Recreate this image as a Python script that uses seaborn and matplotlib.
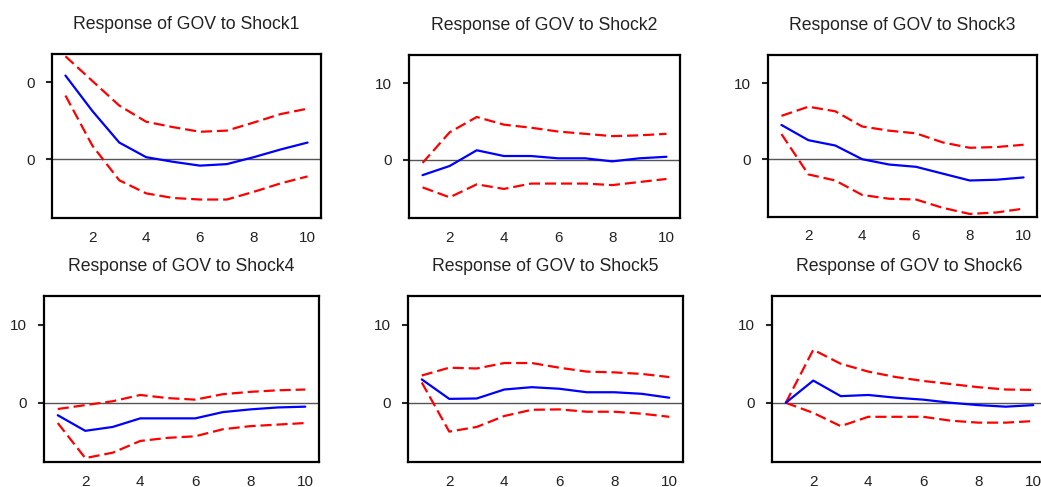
import pandas as pd
import matplotlib
matplotlib.use('Agg')
import matplotlib.pyplot as plt
import seaborn as sns

# Impulse responses of GOV, 10 periods, with +/- 2 s.e. bands
periods = list(range(1, 11))
shocks = ['Shock1', 'Shock2', 'Shock3', 'Shock4', 'Shock5', 'Shock6']

response = [
    [10.9, 6.3, 2.2, 0.3, -0.3, -0.8, -0.6, 0.3, 1.3, 2.2],
    [-2.0, -0.8, 1.25, 0.5, 0.5, 0.2, 0.2, -0.2, 0.2, 0.4],
    [4.5, 2.5, 1.8, 0.0, -0.7, -1.0, -1.9, -2.8, -2.7, -2.4],
    [-1.6, -3.6, -3.1, -2.0, -2.0, -2.0, -1.2, -0.85, -0.6, -0.5],
    [3.0, 0.5, 0.55, 1.7, 2.0, 1.8, 1.35, 1.35, 1.15, 0.65],
    [0.0, 2.85, 0.85, 1.0, 0.65, 0.4, 0.0, -0.3, -0.5, -0.3],
]
upper = [
    [13.4, 10.2, 7.0, 4.9, 4.2, 3.6, 3.75, 4.8, 5.9, 6.6],
    [-0.4, 3.6, 5.6, 4.6, 4.2, 3.7, 3.4, 3.1, 3.2, 3.4],
    [5.7, 6.9, 6.3, 4.3, 3.75, 3.4, 2.2, 1.5, 1.6, 1.9],
    [-0.8, -0.3, 0.2, 1.0, 0.6, 0.4, 1.1, 1.4, 1.6, 1.7],
    [3.5, 4.5, 4.4, 5.1, 5.1, 4.5, 4.0, 3.9, 3.7, 3.3],
    [0.0, 6.8, 5.0, 4.0, 3.3, 2.8, 2.4, 2.0, 1.7, 1.65],
]
lower = [
    [8.3, 1.8, -2.7, -4.4, -5.0, -5.2, -5.2, -4.2, -3.1, -2.2],
    [-3.6, -4.9, -3.2, -3.8, -3.1, -3.1, -3.1, -3.3, -2.9, -2.5],
    [3.3, -2.0, -2.8, -4.7, -5.2, -5.3, -6.4, -7.2, -7.0, -6.5],
    [-2.6, -7.1, -6.4, -4.9, -4.5, -4.3, -3.4, -3.0, -2.8, -2.6],
    [2.6, -3.7, -3.1, -1.7, -0.9, -0.85, -1.15, -1.15, -1.4, -1.8],
    [0.0, -1.3, -3.0, -1.8, -1.8, -1.8, -2.3, -2.55, -2.55, -2.35],
]
ytick_values = [0, 10]
ytick_labels = [['0', '0'], ['0', '10'], ['0', '10'], ['0', '10'], ['0', '10'], ['0', '10']]
xtick_labels = ['2', '4', '6', '8', '10']

sns.set_style('white')
plt.rcParams['font.family'] = ['Liberation Sans', 'DejaVu Sans']

W, H = 1041, 487
fig = plt.figure(figsize=(W / 100, H / 100), dpi=100)

# axes boxes in pixels: left, top, right, bottom
boxes = [
    (52, 54, 321, 218), (409, 55, 680, 218), (768, 55, 1037, 217),
    (44, 296, 319, 462), (408, 296, 683, 462), (772, 296, 1047, 462),
]

for i, (l, t, r, b) in enumerate(boxes):
    ax = fig.add_axes([l / W, (H - b) / H, (r - l) / W, (b - t) / H])
    df = pd.DataFrame({'period': periods, 'resp': response[i],
                       'upper': upper[i], 'lower': lower[i]})
    ax.axhline(0, color='#555555', lw=1.0, zorder=1)
    sns.lineplot(data=df, x='period', y='upper', ax=ax, color='#ff0000',
                 lw=1.6, linestyle=(0, (5, 2.2)))
    sns.lineplot(data=df, x='period', y='lower', ax=ax, color='#ff0000',
                 lw=1.6, linestyle=(0, (5, 2.2)))
    sns.lineplot(data=df, x='period', y='resp', ax=ax, color='#0000ff', lw=1.6)

    ax.set_xlim(0.5, 10.5)
    ax.set_ylim(-7.6, 13.7)
    ax.set_xlabel('')
    ax.set_ylabel('')
    ax.set_title(f'Response of GOV to {shocks[i]}', fontsize=12.7,
                 color='#222222', pad=18)

    ax.set_xticks([2, 4, 6, 8, 10])
    ax.set_xticklabels(xtick_labels)
    ax.set_xticks([p + 0.5 for p in range(0, 11)], minor=True)
    ax.tick_params(axis='x', which='major', length=0, pad=9,
                   labelsize=11, labelcolor='#222222')
    ax.tick_params(axis='x', which='minor', length=7, width=1.5,
                   direction='out', color='black')
    ax.set_yticks(ytick_values)
    ax.set_yticklabels(ytick_labels[i])
    ax.tick_params(axis='y', which='major', length=4, width=1.5,
                   direction='out', pad=8, labelsize=11, labelcolor='#222222',
                   left=True)

    for s in ax.spines.values():
        s.set_visible(True)
        s.set_color('black')
        s.set_linewidth(1.6)

fig.savefig('out.png', dpi=100)
